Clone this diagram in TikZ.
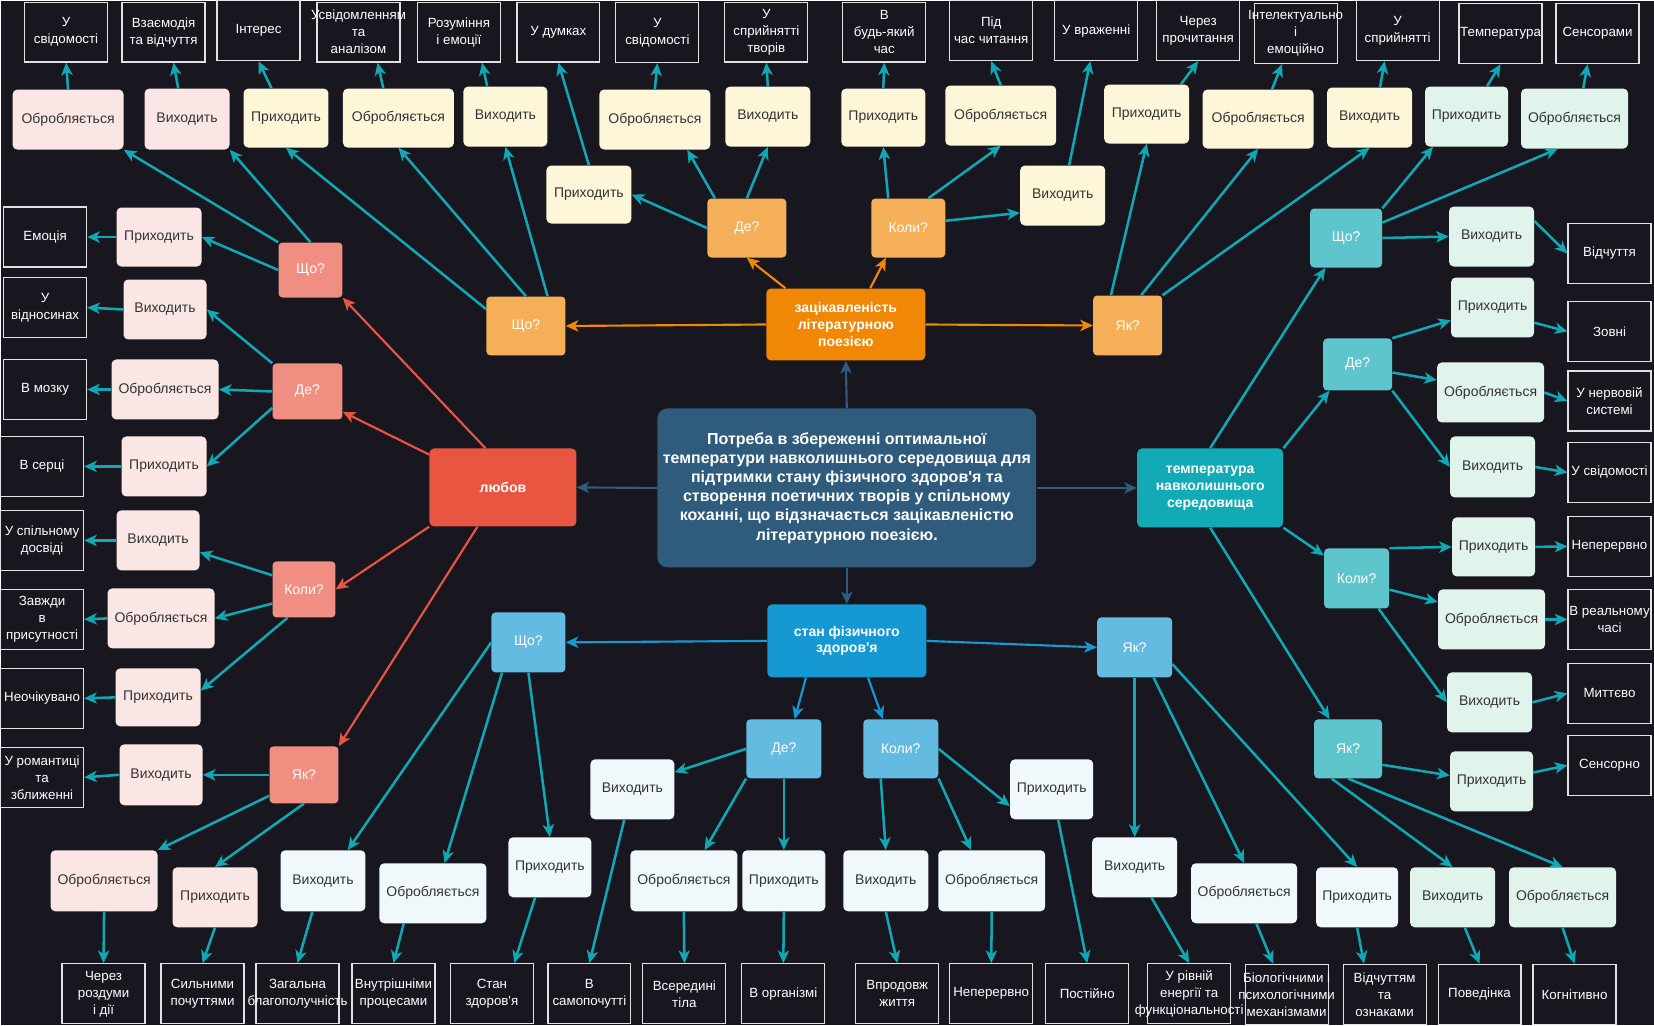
\documentclass[tikz,border=0pt]{standalone}
\usepackage{fontspec}
\setmainfont{Liberation Sans}[Ligatures=TeXOff]
\usetikzlibrary{arrows.meta}

\definecolor{bg}{HTML}{18161F}
\definecolor{mainc}{HTML}{2F5B7C}
\definecolor{orc}{HTML}{F08705}
\definecolor{orq}{HTML}{F5AF58}
\definecolor{redc}{HTML}{E85642}
\definecolor{redq}{HTML}{F08E81}
\definecolor{bluc}{HTML}{1699D3}
\definecolor{bluq}{HTML}{64BBE2}
\definecolor{tealc}{HTML}{12AAB5}
\definecolor{tealq}{HTML}{5FC5CD}
\definecolor{pinkl}{HTML}{FAE7E5}
\definecolor{yell}{HTML}{FDF6D9}
\definecolor{whtl}{HTML}{F0F8FB}
\definecolor{grnl}{HTML}{E0F4EB}
\definecolor{leaftxt}{HTML}{333333}
\definecolor{arrc}{HTML}{10A8B4}
\definecolor{endline}{HTML}{E2E2E2}

\tikzset{
  base/.style={inner sep=0pt, align=center},
  sz/.style 2 args={minimum width=#1*0.75pt, minimum height=#2*0.75pt},
  leaf/.style={base, fill=#1, rounded corners=3.5pt, text=leaftxt,
    font=\fontsize{10.5}{12.75}\selectfont},
  quest/.style={base, fill=#1, rounded corners=3pt, text=white,
    font=\fontsize{10.5}{12.75}\selectfont},
  cat/.style={base, fill=#1, rounded corners=3.5pt, text=white,
    font=\bfseries\fontsize{10.5}{12.75}\selectfont},
  ansbox/.style={draw=endline, line width=0.9pt, fill=bg, sz={83}{60}},
  anstext/.style={base, text=white, font=\fontsize{10}{12.75}\selectfont},
  link/.style={draw=#1, line width=1.9pt,
    -{Stealth[length=9.5pt,width=8.5pt,inset=2.6pt]}},
  arr/.style={link=arrc},
  catlink/.style={link=#1, line width=1.6pt},
}

% framed answer box with free-flowing label
\newcommand\answerbox[3]{%
  \node[ansbox] (#1) at (#2) {};
  \node[anstext] (#1t) at (#1.center) {#3};}

\begin{document}
\begin{tikzpicture}[x=0.75pt,y=-0.75pt]
\fill[bg] (0,0) rectangle (1654,1025);

% ---------- centre and topics ----------
\node[cat=mainc, sz={379}{159}, rounded corners=7.5pt,
  font=\bfseries\fontsize{12}{14.4}\selectfont] (main) at (846.5,487.5)
  {Потреба в збереженні оптимальної\\температури навколишнього середовища для\\підтримки стану фізичного здоров'я та\\створення поетичних творів у спільному\\коханні, що відзначається зацікавленістю\\літературною поезією.};
\node[cat=orc, sz={159}{72}] (poetry) at (845.5,324) {зацікавленість\\літературною\\поезією};
\node[cat=redc, sz={147}{78}] (love) at (502.5,487) {любов};
\node[cat=bluc, sz={159}{73}] (health) at (846.5,640.5) {стан фізичного\\здоров'я};
\node[cat=tealc, sz={146}{79}] (temp) at (1210,487.5) {температура\\навколишнього\\середовища};

% ---------- questions ----------
\node[quest=redq, sz={64}{55}] (rWhat) at (310,269.5) {Що?};
\node[quest=redq, sz={70}{56}] (rWhere) at (307,391) {Де?};
\node[quest=redq, sz={63}{56}] (rWhen) at (303.5,589) {Коли?};
\node[quest=redq, sz={69}{57}] (rHow) at (303.5,774.5) {Як?};

\node[quest=orq, sz={79}{59}] (oWhat) at (525.5,325.5) {Що?};
\node[quest=orq, sz={79}{59}] (oWhere) at (746.5,227.5) {Де?};
\node[quest=orq, sz={74}{59}] (oWhen) at (908,227.5) {Коли?};
\node[quest=orq, sz={69}{60}] (oHow) at (1127.5,325) {Як?};

\node[quest=bluq, sz={74}{60}] (bWhat) at (528,642) {Що?};
\node[quest=bluq, sz={75}{59}] (bWhere) at (783.5,748.5) {Де?};
\node[quest=bluq, sz={75}{59}] (bWhen) at (900.5,748.5) {Коли?};
\node[quest=bluq, sz={75}{60}] (bHow) at (1134.5,647) {Як?};

\node[quest=tealq, sz={72}{59}] (tWhat) at (1346,237.5) {Що?};
\node[quest=tealq, sz={69}{52}] (tWhere) at (1357.5,364) {Де?};
\node[quest=tealq, sz={65}{60}] (tWhen) at (1356.5,578) {Коли?};
\node[quest=tealq, sz={68}{59}] (tHow) at (1348,748.5) {Як?};

% ---------- steps: love ----------
\node[leaf=pinkl, sz={111}{60}] (pO1) at (67.5,119) {Обробляється};
\node[leaf=pinkl, sz={85}{61}] (pV1) at (186.5,118.5) {Виходить};
\node[leaf=pinkl, sz={85}{59}] (pP1) at (158.5,236.5) {Приходить};
\node[leaf=pinkl, sz={83}{60}] (pV2) at (164.5,309) {Виходить};
\node[leaf=pinkl, sz={107}{60}] (pO2) at (164.5,389) {Обробляється};
\node[leaf=pinkl, sz={85}{60}] (pP2) at (163.5,466) {Приходить};
\node[leaf=pinkl, sz={83}{60}] (pV3) at (157.5,540) {Виходить};
\node[leaf=pinkl, sz={107}{60}] (pO3) at (160.5,618) {Обробляється};
\node[leaf=pinkl, sz={85}{58}] (pP3) at (157.5,697) {Приходить};
\node[leaf=pinkl, sz={83}{61}] (pV4) at (160.5,774.5) {Виходить};
\node[leaf=pinkl, sz={107}{61}] (pO4) at (103.5,880.5) {Обробляється};
\node[leaf=pinkl, sz={85}{60}] (pP4) at (214.5,897) {Приходить};

% ---------- steps: poetry ----------
\node[leaf=yell, sz={85}{59}] (yP1) at (285.5,117.5) {Приходить};
\node[leaf=yell, sz={111}{59}] (yO1) at (398,117.5) {Обробляється};
\node[leaf=yell, sz={84}{60}] (yV2) at (505,116) {Виходить};
\node[leaf=yell, sz={85}{58}] (yP2) at (588.5,194) {Приходить};
\node[leaf=yell, sz={111}{60}] (yO2) at (654.5,119) {Обробляється};
\node[leaf=yell, sz={85}{60}] (yV3) at (767.5,116) {Виходить};
\node[leaf=yell, sz={84}{58}] (yP3) at (883,117) {Приходить};
\node[leaf=yell, sz={111}{60}] (yO3) at (1000.5,115) {Обробляється};
\node[leaf=yell, sz={85}{60}] (yV4) at (1062.5,195) {Виходить};
\node[leaf=yell, sz={85}{59}] (yP4) at (1146.5,113.5) {Приходить};
\node[leaf=yell, sz={111}{59}] (yO4) at (1258,118.5) {Обробляється};
\node[leaf=yell, sz={85}{60}] (yV5) at (1369.5,117) {Виходить};

% ---------- steps: health ----------
\node[leaf=whtl, sz={85}{61}] (wV1) at (322.5,880.5) {Виходить};
\node[leaf=whtl, sz={107}{60}] (wO1) at (432.5,893) {Обробляється};
\node[leaf=whtl, sz={83}{60}] (wP1) at (549.5,867) {Приходить};
\node[leaf=whtl, sz={84}{60}] (wV2) at (632,789) {Виходить};
\node[leaf=whtl, sz={107}{61}] (wO2) at (683.5,880.5) {Обробляється};
\node[leaf=whtl, sz={83}{61}] (wP2) at (783.5,880.5) {Приходить};
\node[leaf=whtl, sz={85}{61}] (wV3) at (885.5,880.5) {Виходить};
\node[leaf=whtl, sz={107}{61}] (wO3) at (991.5,880.5) {Обробляється};
\node[leaf=whtl, sz={83}{60}] (wP3) at (1051.5,789) {Приходить};
\node[leaf=whtl, sz={85}{60}] (wV4) at (1134.5,867) {Виходить};
\node[leaf=whtl, sz={106}{60}] (wO4) at (1244,893) {Обробляється};
\node[leaf=whtl, sz={82}{60}] (wP4) at (1357,897) {Приходить};

% ---------- steps: temperature ----------
\node[leaf=grnl, sz={83}{60}] (gP1) at (1466.5,116) {Приходить};
\node[leaf=grnl, sz={107}{60}] (gO1) at (1574.5,118) {Обробляється};
\node[leaf=grnl, sz={85}{60}] (gV1) at (1491.5,236) {Виходить};
\node[leaf=grnl, sz={83}{60}] (gP2) at (1492.5,307) {Приходить};
\node[leaf=grnl, sz={107}{60}] (gO2) at (1490.5,392) {Обробляється};
\node[leaf=grnl, sz={85}{61}] (gV2) at (1492.5,466.5) {Виходить};
\node[leaf=grnl, sz={83}{59}] (gP3) at (1493.5,546.5) {Приходить};
\node[leaf=grnl, sz={107}{60}] (gO3) at (1491.5,619) {Обробляється};
\node[leaf=grnl, sz={85}{60}] (gV3) at (1489.5,702) {Виходить};
\node[leaf=grnl, sz={83}{60}] (gP4) at (1491.5,781) {Приходить};
\node[leaf=grnl, sz={85}{60}] (gV5) at (1452.5,897) {Виходить};
\node[leaf=grnl, sz={107}{60}] (gO5) at (1562.5,897) {Обробляється};

% ---------- answers: top row ----------
\answerbox{e1}{65.5,31.5}{У\\свідомості}
\answerbox{e2}{163,31.5}{Взаємодія\\та відчуття}
\answerbox{e3}{258,30}{Інтерес}
\answerbox{e4}{358,31.5}{Усвідомленням\\та\\аналізом}
\answerbox{e5}{458.5,31.5}{Розуміння\\і емоції}
\answerbox{e6}{558,31.5}{У думках}
\answerbox{e7}{657,32}{У\\свідомості}
\answerbox{e8}{766,31.5}{У\\сприйнятті\\творів}
\answerbox{e9}{884,31.5}{В\\будь-який\\час}
\answerbox{e10}{991,30}{Під\\час читання}
\answerbox{e11}{1096,30}{У враженні}
\answerbox{e12}{1198,30}{Через\\прочитання}
\answerbox{e13}{1295.5,33}{Інтелектуально\\і\\емоційно}
\answerbox{e14}{1397.5,30}{У\\сприйнятті}
\answerbox{e15}{1500.5,33}{Температура}
\answerbox{e16}{1597.5,33}{Сенсорами}

% ---------- answers: left column ----------
\answerbox{e17}{44.5,236.5}{Емоція}
\answerbox{e18}{44.5,307}{У\\відносинах}
\answerbox{e19}{44.5,389}{В мозку}
\answerbox{e20}{41.5,466}{В серці}
\answerbox{e21}{41.5,540}{У спільному\\досвіді}
\answerbox{e22}{41.5,619}{Завжди\\в\\присутності}
\answerbox{e23}{41.5,698}{Неочікувано}
\answerbox{e24}{41.5,777}{У романтиці\\та\\зближенні}

% ---------- answers: right column ----------
\answerbox{e25}{1609.5,253}{Відчуття}
\answerbox{e26}{1609.5,331}{Зовні}
\answerbox{e27}{1609.5,400.5}{У нервовій\\системі}
\answerbox{e28}{1609.5,472}{У свідомості}
\answerbox{e29}{1609.5,546}{Неперервно}
\answerbox{e30}{1609.5,619}{В реальному\\часі}
\answerbox{e31}{1609.5,693}{Миттєво}
\answerbox{e32}{1609.5,765}{Сенсорно}

% ---------- answers: bottom row ----------
\answerbox{e33}{103,993.5}{Через\\роздуми\\і дії}
\answerbox{e34}{202,993.5}{Сильними\\почуттями}
\answerbox{e35}{297,993.5}{Загальна\\благополучність}
\answerbox{e36}{393,993.5}{Внутрішніми\\процесами}
\answerbox{e37}{491.5,993.5}{Стан\\здоров'я}
\answerbox{e38}{589,993.5}{В\\самопочутті}
\answerbox{e39}{684,993.5}{Всередині\\тіла}
\answerbox{e40}{783,993.5}{В організмі}
\answerbox{e41}{897,993.5}{Впродовж\\життя}
\answerbox{e42}{991,993.5}{Неперервно}
\answerbox{e43}{1087,993.5}{Постійно}
\answerbox{e44}{1189,993.5}{У рівній\\енергії та\\функціональності}
\answerbox{e45}{1286.5,994}{Біологічними і\\психологічними\\механізмами}
\answerbox{e46}{1384.5,994}{Відчуттям\\та\\ознаками}
\answerbox{e47}{1479.5,994}{Поведінка}
\answerbox{e48}{1574.5,994}{Когнітивно}

% ---------- centre to topics ----------
\draw[catlink=mainc] (main.west) -- (love.east);
\draw[catlink=mainc] (main.north) -- (poetry.south);
\draw[catlink=mainc] (main.east) -- (temp.west);
\draw[catlink=mainc] (main.south) -- (health.north);

% ---------- topics to questions ----------
\draw[catlink=redc] (love.114) -- (rWhat.south east);
\draw[catlink=redc] (love.156) -- (rWhere.330);
\draw[catlink=redc] (love.south west) -- (rWhen.east);
\draw[catlink=redc] (love.237) -- (rHow.north east);

\draw[catlink=orc] (poetry.west) -- (oWhat.east);
\draw[catlink=orc] (poetry.149) -- (oWhere.south);
\draw[catlink=orc] (poetry.56) -- (oWhen.233);
\draw[catlink=orc] (poetry.east) -- (oHow.west);

\draw[catlink=bluc] (health.west) -- (bWhat.east);
\draw[catlink=bluc] (health.222) -- (bWhere.70);
\draw[catlink=bluc] (health.300) -- (bWhen.121);
\draw[catlink=bluc] (health.east) -- (bHow.west);

\draw[arr] (temp.north) -- (tWhat.235);
\draw[arr] (temp.north east) -- (tWhere.223);
\draw[arr] (temp.south east) -- (tWhen.145);
\draw[arr] (temp.south) -- (tHow.122);

% ---------- love branch ----------
\draw[arr] (rWhat.north west) -- (pO1.south east);
\draw[arr] (rWhat.north) -- (pV1.south east);
\draw[arr] (rWhat.west) -- (pP1.east);
\draw[arr] (rWhere.north west) -- (pV2.east);
\draw[arr] (rWhere.west) -- (pO2.east);
\draw[arr] (rWhere.205) -- (pP2.east);
\draw[arr] (rWhen.156) -- (pV3.344);
\draw[arr] (rWhen.204) -- (pO3.east);
\draw[arr] (rWhen.240) -- (pP3.9);
\draw[arr] (rHow.west) -- (pV4.east);
\draw[arr] (rHow.211) -- (pO4.north east);
\draw[arr] (rHow.south) -- (pP4.north);

\draw[arr] (pO1.north) -- (e1.south);
\draw[arr] (pV1.106) -- (e2.288);
\draw[arr] (pP1.west) -- (e17.east);
\draw[arr] (pV2.west) -- (e18.east);
\draw[arr] (pO2.west) -- (e19.east);
\draw[arr] (pP2.west) -- (e20.east);
\draw[arr] (pV3.west) -- (e21.east);
\draw[arr] (pO3.west) -- (e22.east);
\draw[arr] (pP3.west) -- (e23.east);
\draw[arr] (pV4.west) -- (e24.east);
\draw[arr] (pO4.south) -- (e33.north);
\draw[arr] (pP4.south) -- (e34.north);

% ---------- poetry branch ----------
\draw[arr] (oWhat.157) -- (yP1.south);
\draw[arr] (oWhat.north) -- (yO1.south);
\draw[arr] (oWhat.54) -- (yV2.south);
\draw[arr] (oWhere.west) -- (yP2.east);
\draw[arr] (oWhere.137) -- (yO2.317);
\draw[arr] (oWhere.north) -- (yV3.south);
\draw[arr] (oWhen.124) -- (yP3.south);
\draw[arr] (oWhen.56) -- (yO3.south);
\draw[arr] (oWhen.11) -- (yV4.202);
\draw[arr] (oHow.119) -- (yP4.south);
\draw[arr] (oHow.66) -- (yO4.south);
\draw[arr] (oHow.north east) -- (yV5.south);

\draw[arr] (yP1.116) -- (e3.south);
\draw[arr] (yO1.117) -- (e4.302);
\draw[arr] (yV2.121) -- (e5.307);
\draw[arr] (yP2.north) -- (e6.south);
\draw[arr] (yO2.north) -- (e7.south);
\draw[arr] (yV3.north) -- (e8.south);
\draw[arr] (yP3.north) -- (e9.south);
\draw[arr] (yO3.north) -- (e10.south);
\draw[arr] (yV4.78) -- (e11.259);
\draw[arr] (yP4.41) -- (e12.south);
\draw[arr] (yO4.65) -- (e13.246);
\draw[arr] (yV5.71) -- (e14.247);

% ---------- health branch ----------
\draw[arr] (bWhat.west) -- (wV1.51);
\draw[arr] (bWhat.229) -- (wO1.69);
\draw[arr] (bWhat.south) -- (wP1.north);
\draw[arr] (bWhere.west) -- (wV2.22);
\draw[arr] (bWhere.south west) -- (wO2.56);
\draw[arr] (bWhere.south) -- (wP2.north);
\draw[arr] (bWhen.236) -- (wV3.north);
\draw[arr] (bWhen.south east) -- (wO3.124);
\draw[arr] (bWhen.east) -- (wP3.202);
\draw[arr] (bHow.south) -- (wV4.north);
\draw[arr] (bHow.302) -- (wO4.north);
\draw[arr] (bHow.336) -- (wP4.north);

\draw[arr] (wV1.251) -- (e35.north);
\draw[arr] (wO1.226) -- (e36.north);
\draw[arr] (wP1.244) -- (e37.54);
\draw[arr] (wV2.255) -- (e38.north);
\draw[arr] (wO2.south) -- (e39.north);
\draw[arr] (wP2.south) -- (e40.north);
\draw[arr] (wV3.south) -- (e41.north);
\draw[arr] (wO3.south) -- (e42.north);
\draw[arr] (wP3.282) -- (e43.north);
\draw[arr] (wV4.299) -- (e44.north);
\draw[arr] (wO4.292) -- (e45.114);
\draw[arr] (wP4.south) -- (e46.124);

% ---------- temperature branch ----------
\draw[arr] (tWhat.north east) -- (gP1.222);
\draw[arr] (tWhat.23) -- (gO1.241);
\draw[arr] (tWhat.east) -- (gV1.west);
\draw[arr] (tWhere.north east) -- (gP2.197);
\draw[arr] (tWhere.347) -- (gO2.167);
\draw[arr] (tWhere.south east) -- (gV2.west);
\draw[arr] (tWhen.north east) -- (gP3.west);
\draw[arr] (tWhen.341) -- (gO3.162);
\draw[arr] (tWhen.306) -- (gV3.west);
\draw[arr] (tHow.335) -- (gP4.172);
\draw[arr] (tHow.241) -- (gV5.north);
\draw[arr] (tHow.south) -- (gO5.north);

\draw[arr] (gP1.56) -- (e15.south);
\draw[arr] (gO1.74) -- (e16.252);
\draw[arr] (gV1.20) -- (e25.west);
\draw[arr] (gP2.340) -- (e26.west);
\draw[arr] (gO2.east) -- (e27.west);
\draw[arr] (gV2.east) -- (e28.west);
\draw[arr] (gP3.east) -- (e29.west);
\draw[arr] (gO3.east) -- (e30.west);
\draw[arr] (gV3.east) -- (e31.west);
\draw[arr] (gP4.12) -- (e32.west);
\draw[arr] (gV5.292) -- (e47.north);
\draw[arr] (gO5.south) -- (e48.north);
\end{tikzpicture}
\end{document}
